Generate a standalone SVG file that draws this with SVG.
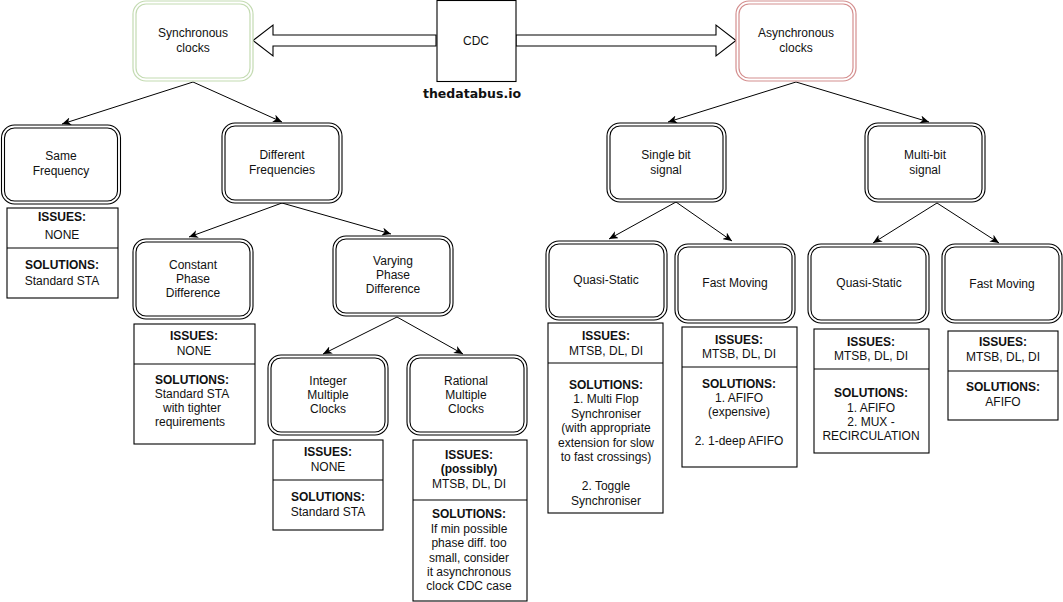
<svg xmlns="http://www.w3.org/2000/svg" width="1063" height="602" viewBox="0 0 1063 602">
<style>
text{font-family:"Liberation Sans",Arial,Helvetica,sans-serif;font-size:12px;fill:#111;text-anchor:middle}
.b{font-weight:bold}
.o{fill:#fff;stroke:#000;stroke-width:1.1}
.i{fill:none;stroke:#000;stroke-width:1.1}
.box{fill:#fff;stroke:#000;stroke-width:1.1}
.div{stroke:#000;stroke-width:1.1}
.edge{fill:none;stroke:#000;stroke-width:1;marker-end:url(#ah)}
.blk{fill:#fff;stroke:#000;stroke-width:1.1}
</style>
<defs>
<marker id="ah" markerWidth="10" markerHeight="8" refX="9" refY="4" orient="auto" markerUnits="userSpaceOnUse">
<path d="M0,0 L9,4 L0,8 L2.5,4 z" fill="#000"/>
</marker>
</defs>
<rect width="1063" height="602" fill="#fff"/>

<g id="connectors">
<polygon class="blk" points="436,35 273,35 273,25 253,40.5 273,56 273,46 436,46"/>
<polygon class="blk" points="516,35 716,35 716,25 736,40.5 716,56 716,46 516,46"/>
<path class="edge" d="M193,82 L62,124"/>
<path class="edge" d="M193,82 L282,122"/>
<path class="edge" d="M282,203 L189,237"/>
<path class="edge" d="M282,203 L391,234"/>
<path class="edge" d="M397,317 L323,354"/>
<path class="edge" d="M397,317 L463,354"/>
<path class="edge" d="M796,82 L668,122"/>
<path class="edge" d="M796,82 L929,122"/>
<path class="edge" d="M676,202 L609,239"/>
<path class="edge" d="M676,202 L732,241"/>
<path class="edge" d="M937,203 L873,243"/>
<path class="edge" d="M937,203 L999,243"/>
</g>

<g id="cdc">
<rect class="box" x="437" y="0.5" width="79" height="81"/>
<text x="476" y="45">CDC</text>
<text class="b" x="472" y="98" style="font-family:'DejaVu Sans',Verdana,sans-serif;font-size:12.5px">thedatabus.io</text>
</g>

<g id="sync">
<rect x="133" y="1" width="120" height="80" rx="13" fill="#fff" stroke="#c4dbb2" stroke-width="1.2"/>
<rect x="136" y="4" width="114" height="74" rx="10" fill="none" stroke="#c4dbb2" stroke-width="1.2"/>
<text x="193" y="37">Synchronous</text>
<text x="193" y="52">clocks</text>
</g>

<g id="async">
<rect x="736" y="1" width="120" height="80" rx="13" fill="#fff" stroke="#d48f8f" stroke-width="1.2"/>
<rect x="739" y="4" width="114" height="74" rx="10" fill="none" stroke="#d48f8f" stroke-width="1.2"/>
<text x="796" y="37">Asynchronous</text>
<text x="796" y="52">clocks</text>
</g>

<g id="same-frequency">
<rect class="o" x="1.5" y="125" width="119" height="79" rx="13"/>
<rect class="i" x="4.5" y="128" width="113" height="73" rx="10"/>
<text x="61" y="160">Same</text>
<text x="61" y="175">Frequency</text>
</g>
<g id="same-frequency-info">
<rect class="box" x="7" y="208" width="111" height="90"/>
<line class="div" x1="7" y1="248" x2="118" y2="248"/>
<text class="b" x="62" y="221">ISSUES:</text>
<text x="62" y="239">NONE</text>
<text class="b" x="62" y="269">SOLUTIONS:</text>
<text x="62" y="285">Standard STA</text>
</g>

<g id="different-frequencies">
<rect class="o" x="222" y="123" width="120" height="80" rx="13"/>
<rect class="i" x="225" y="126" width="114" height="74" rx="10"/>
<text x="282" y="159">Different</text>
<text x="282" y="174">Frequencies</text>
</g>

<g id="constant-phase">
<rect class="o" x="133" y="239" width="120" height="80" rx="13"/>
<rect class="i" x="136" y="242" width="114" height="74" rx="10"/>
<text x="193" y="269">Constant</text>
<text x="193" y="283">Phase</text>
<text x="193" y="297">Difference</text>
</g>
<g id="constant-phase-info">
<rect class="box" x="134" y="324" width="121" height="120"/>
<line class="div" x1="134" y1="364" x2="255" y2="364"/>
<text class="b" x="194" y="340">ISSUES:</text>
<text x="194" y="355">NONE</text>
<text class="b" x="192" y="384">SOLUTIONS:</text>
<text x="192" y="398">Standard STA</text>
<text x="192" y="412">with tighter</text>
<text x="190" y="426">requirements</text>
</g>

<g id="varying-phase">
<rect class="o" x="333" y="236" width="120" height="80" rx="13"/>
<rect class="i" x="336" y="239" width="114" height="74" rx="10"/>
<text x="393" y="265">Varying</text>
<text x="393" y="279">Phase</text>
<text x="393" y="293">Difference</text>
</g>

<g id="integer-multiple">
<rect class="o" x="268" y="355" width="120" height="80" rx="13"/>
<rect class="i" x="271" y="358" width="114" height="74" rx="10"/>
<text x="328" y="385">Integer</text>
<text x="328" y="399">Multiple</text>
<text x="328" y="413">Clocks</text>
</g>
<g id="integer-multiple-info">
<rect class="box" x="273" y="440" width="110" height="90"/>
<line class="div" x1="273" y1="480" x2="383" y2="480"/>
<text class="b" x="328" y="456">ISSUES:</text>
<text x="328" y="471">NONE</text>
<text class="b" x="328" y="501">SOLUTIONS:</text>
<text x="328" y="516">Standard STA</text>
</g>

<g id="rational-multiple">
<rect class="o" x="407" y="355" width="120" height="80" rx="13"/>
<rect class="i" x="410" y="358" width="114" height="74" rx="10"/>
<text x="466" y="385">Rational</text>
<text x="466" y="399">Multiple</text>
<text x="466" y="413">Clocks</text>
</g>
<g id="rational-multiple-info">
<rect class="box" x="413" y="440" width="114" height="161"/>
<line class="div" x1="413" y1="500" x2="527" y2="500"/>
<text class="b" x="469" y="459">ISSUES:</text>
<text class="b" x="469" y="473">(possibly)</text>
<text x="469" y="488">MTSB, DL, DI</text>
<text class="b" x="469" y="518">SOLUTIONS:</text>
<text x="469" y="533">If min possible</text>
<text x="469" y="547">phase diff. too</text>
<text x="469" y="562">small, consider</text>
<text x="469" y="576">it asynchronous</text>
<text x="469" y="590">clock CDC case</text>
</g>

<g id="single-bit">
<rect class="o" x="607" y="123" width="119" height="79" rx="13"/>
<rect class="i" x="610" y="126" width="113" height="73" rx="10"/>
<text x="666" y="159">Single bit</text>
<text x="666" y="174">signal</text>
</g>

<g id="multi-bit">
<rect class="o" x="865" y="123" width="120" height="79" rx="13"/>
<rect class="i" x="868" y="126" width="114" height="73" rx="10"/>
<text x="925" y="159">Multi-bit</text>
<text x="925" y="174">signal</text>
</g>

<g id="quasi-static-1">
<rect class="o" x="546" y="241" width="121" height="79" rx="13"/>
<rect class="i" x="549" y="244" width="115" height="73" rx="10"/>
<text x="606" y="284">Quasi-Static</text>
</g>
<g id="quasi-static-1-info">
<rect class="box" x="548" y="323" width="115" height="190"/>
<line class="div" x1="548" y1="363" x2="663" y2="363"/>
<text class="b" x="606" y="340">ISSUES:</text>
<text x="606" y="355">MTSB, DL, DI</text>
<text class="b" x="606" y="389">SOLUTIONS:</text>
<text x="606" y="403">1. Multi Flop</text>
<text x="606" y="418">Synchroniser</text>
<text x="606" y="432">(with appropriate</text>
<text x="606" y="447">extension for slow</text>
<text x="606" y="461">to fast crossings)</text>
<text x="606" y="490">2. Toggle</text>
<text x="606" y="505">Synchroniser</text>
</g>

<g id="fast-moving-1">
<rect class="o" x="675" y="244" width="120" height="79" rx="13"/>
<rect class="i" x="678" y="247" width="114" height="73" rx="10"/>
<text x="735" y="287">Fast Moving</text>
</g>
<g id="fast-moving-1-info">
<rect class="box" x="682" y="327" width="115" height="140"/>
<line class="div" x1="682" y1="367" x2="797" y2="367"/>
<text class="b" x="739" y="344">ISSUES:</text>
<text x="739" y="358">MTSB, DL, DI</text>
<text class="b" x="739" y="388">SOLUTIONS:</text>
<text x="739" y="402">1. AFIFO</text>
<text x="739" y="416">(expensive)</text>
<text x="739" y="445">2. 1-deep AFIFO</text>
</g>

<g id="quasi-static-2">
<rect class="o" x="808" y="244" width="121" height="79" rx="13"/>
<rect class="i" x="811" y="247" width="115" height="73" rx="10"/>
<text x="869" y="287">Quasi-Static</text>
</g>
<g id="quasi-static-2-info">
<rect class="box" x="814" y="329" width="115" height="124"/>
<line class="div" x1="814" y1="369" x2="929" y2="369"/>
<text class="b" x="871" y="346">ISSUES:</text>
<text x="871" y="360">MTSB, DL, DI</text>
<text class="b" x="871" y="397">SOLUTIONS:</text>
<text x="871" y="412">1. AFIFO</text>
<text x="871" y="426">2. MUX -</text>
<text x="871" y="440">RECIRCULATION</text>
</g>

<g id="fast-moving-2">
<rect class="o" x="942" y="244" width="120" height="79" rx="13"/>
<rect class="i" x="945" y="247" width="114" height="73" rx="10"/>
<text x="1002" y="288">Fast Moving</text>
</g>
<g id="fast-moving-2-info">
<rect class="box" x="948" y="331" width="110" height="89"/>
<line class="div" x1="948" y1="371" x2="1058" y2="371"/>
<text class="b" x="1003" y="346">ISSUES:</text>
<text x="1003" y="361">MTSB, DL, DI</text>
<text class="b" x="1003" y="391">SOLUTIONS:</text>
<text x="1003" y="406">AFIFO</text>
</g>
</svg>
